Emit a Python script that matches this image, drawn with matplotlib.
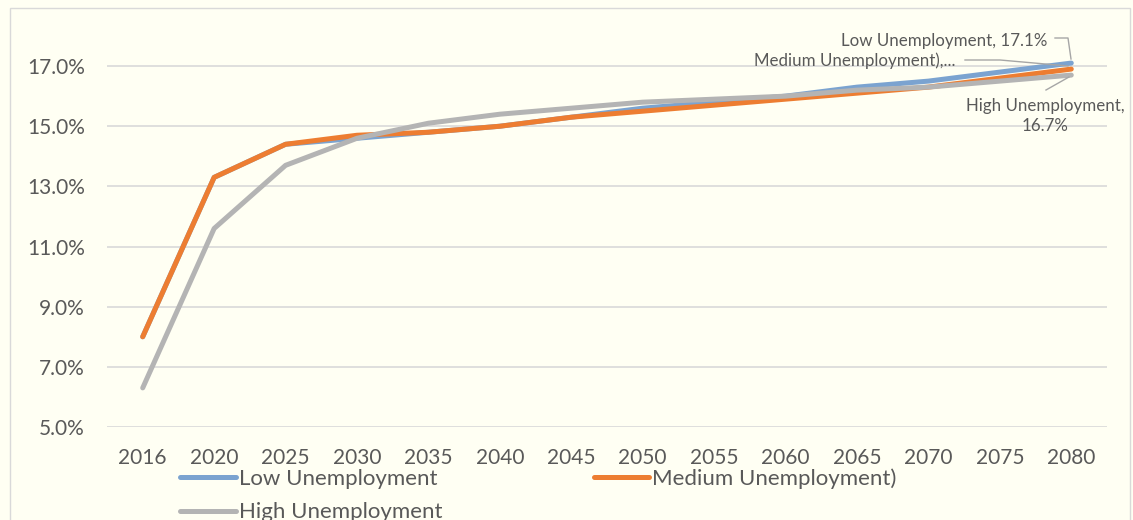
import matplotlib
matplotlib.use("Agg")
import matplotlib.pyplot as plt
import numpy as np

years = ["2016", "2020", "2025", "2030", "2035", "2040", "2045", "2050",
         "2055", "2060", "2065", "2070", "2075", "2080"]
low_unemp = [8.0, 13.3, 14.4, 14.6, 14.8, 15.0, 15.3, 15.6, 15.8, 16.0, 16.3, 16.5, 16.8, 17.1]
med_unemp = [8.0, 13.3, 14.4, 14.7, 14.8, 15.0, 15.3, 15.5, 15.7, 15.9, 16.1, 16.3, 16.6, 16.9]
high_unemp = [6.3, 11.6, 13.7, 14.6, 15.1, 15.4, 15.6, 15.8, 15.9, 16.0, 16.2, 16.3, 16.5, 16.7]
yticks = [5, 7, 9, 11, 13, 15, 17]

plt.rcParams['font.family'] = ['Lato', 'DejaVu Sans']
TXT = '#595959'
BG = '#FFFFF3'
C_LOW = '#7BA3D0'
C_MED = '#ED7D31'
C_HIGH = '#B4B4B4'

fig = plt.figure(figsize=(11.33, 5.2), dpi=100, facecolor=BG)
ax = fig.add_axes([107/1133, 93/520, 1000/1133, (427-36)/520], facecolor=BG)

x = np.arange(len(years))
lw = 3.6
l_low, = ax.plot(x, low_unemp, color=C_LOW, lw=lw, solid_capstyle='round', solid_joinstyle='round', zorder=3)
l_med, = ax.plot(x, med_unemp, color=C_MED, lw=lw, solid_capstyle='round', solid_joinstyle='round', zorder=4)
l_high, = ax.plot(x, high_unemp, color=C_HIGH, lw=lw, solid_capstyle='round', solid_joinstyle='round', zorder=5)

ax.set_xlim(-0.5, len(years) - 0.5)
ax.set_ylim(5, 18)
ax.set_yticks(yticks)
ax.set_yticklabels([f"{v:.1f}%" for v in yticks])
ax.set_xticks(x)
ax.set_xticklabels(years)
ax.grid(axis='y', color='#D9D9D9', lw=1.2, zorder=0)
for s in ax.spines.values():
    s.set_visible(False)
ax.tick_params(axis='both', length=0, colors=TXT, labelsize=15)
ax.tick_params(axis='y', pad=16)
ax.tick_params(axis='x', pad=15)

# data labels
last = len(years) - 1
afs = 12.2
ax.annotate(f"Low Unemployment, {low_unemp[-1]:.1f}%", xy=(last, low_unemp[-1]),
            xytext=(1047, 479), textcoords='figure pixels', ha='right', va='center',
            fontsize=afs, color=TXT)
fig.add_artist(plt.Line2D([1055/1133, 1068/1133, 1071/1133], [1 - 38/520, 1 - 38/520, 1 - 59/520],
                          color='#A6A6A6', lw=1.0, transform=fig.transFigure))
ax.annotate("Medium Unemployment),...", xy=(last, med_unemp[-1]),
            xytext=(955, 459), textcoords='figure pixels', ha='right', va='center',
            fontsize=afs, color=TXT)
fig.add_artist(plt.Line2D([965/1133, 1000/1133, 1068/1133], [1 - 60/520, 1 - 60/520, 1 - 66/520],
                          color='#A6A6A6', lw=1.0, transform=fig.transFigure))
ax.annotate(f"High Unemployment,\n{high_unemp[-1]:.1f}%", xy=(last, high_unemp[-1]),
            xytext=(1045, 404), textcoords='figure pixels', ha='center', va='center',
            fontsize=afs, color=TXT, linespacing=1.35)
fig.add_artist(plt.Line2D([1046/1133, 1069/1133], [1 - 90/520, 1 - 77/520],
                          color='#A6A6A6', lw=1.0, transform=fig.transFigure))

leg = fig.legend([l_low, l_high, l_med],
                 ["Low Unemployment", "High Unemployment", "Medium Unemployment)"],
                 ncol=2, loc='upper left', bbox_to_anchor=(180/1133, 1 - 468/520),
                 frameon=False, fontsize=16, handlelength=2.5, handletextpad=0.15,
                 columnspacing=6.8, labelspacing=0.62, borderpad=0, borderaxespad=0)
for t in leg.get_texts():
    t.set_color(TXT)
for h in leg.get_lines():
    h.set_linewidth(3.6)

# outer border
fig.add_artist(plt.Rectangle((10/1133, -0.01), 1120/1133, 1.0 - 8/520 + 0.01, fill=False,
                             edgecolor='#D9D9D9', lw=1.0, transform=fig.transFigure))

fig.savefig("out.png", dpi=100, facecolor=BG)
